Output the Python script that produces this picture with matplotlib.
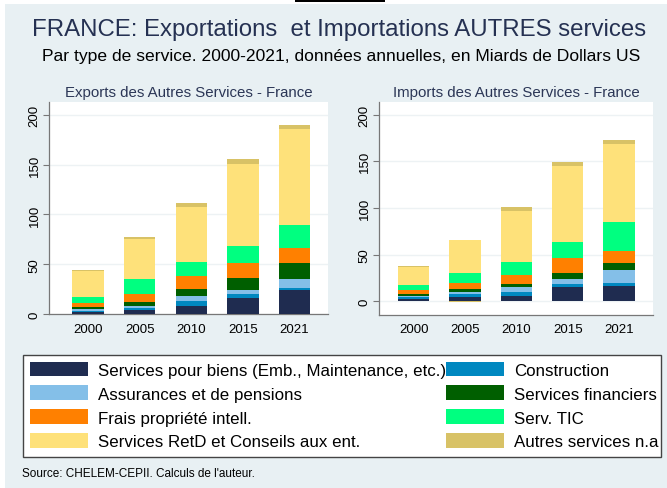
import matplotlib.pyplot as plt
from matplotlib.patches import Patch, Rectangle
import numpy as np

plt.rcParams["font.family"] = ["Liberation Sans", "DejaVu Sans"]

years = ["2000", "2005", "2010", "2015", "2021"]
categories = [
    "Services pour biens (Emb., Maintenance, etc.)",
    "Construction",
    "Assurances et de pensions",
    "Services financiers",
    "Frais propriété intell.",
    "Serv. TIC",
    "Services RetD et Conseils aux ent.",
    "Autres services n.a",
]
colors = ["#1f2c50", "#0088c0", "#84bfe8", "#005f00",
          "#ff8000", "#00ff80", "#fee17a", "#d8c266"]

# Miards de dollars US, one list per category (2000, 2005, 2010, 2015, 2021)
exp_biens = [2.0, 4.0, 8.5, 16.0, 24.0]
exp_constr = [1.5, 2.0, 5.0, 4.0, 2.3]
exp_assur = [1.5, 2.5, 5.0, 4.0, 9.0]
exp_fin = [2.5, 3.5, 6.5, 12.0, 16.0]
exp_frais = [3.5, 8.0, 13.0, 15.3, 14.7]
exp_tic = [6.5, 15.0, 14.0, 17.0, 23.6]
exp_retd = [25.5, 40.5, 55.5, 82.3, 95.7]
exp_autres = [1.5, 2.0, 4.5, 4.7, 4.7]

imp_biens = [2.0, 4.5, 5.4, 15.0, 16.8]
imp_constr = [2.2, 3.0, 4.2, 3.5, 2.5]
imp_assur = [1.4, 2.5, 5.4, 5.4, 14.2]
imp_fin = [1.8, 3.0, 3.5, 6.4, 7.9]
imp_frais = [4.3, 6.4, 10.1, 15.7, 12.9]
imp_tic = [5.7, 11.1, 13.5, 18.0, 31.1]
imp_retd = [19.0, 35.5, 54.7, 81.0, 83.2]
imp_autres = [1.0, -1.0, 4.2, 4.3, 4.3]

exports = [exp_biens, exp_constr, exp_assur, exp_fin, exp_frais, exp_tic, exp_retd, exp_autres]
imports = [imp_biens, imp_constr, imp_assur, imp_fin, imp_frais, imp_tic, imp_retd, imp_autres]

bg = "#e8f0f3"
fig = plt.figure(figsize=(6.67, 4.89), dpi=100, facecolor="white")
fig.patches.append(Rectangle((5 / 667, 0), 1, 1 - 5 / 489, transform=fig.transFigure,
                             facecolor=bg, edgecolor="none", zorder=-10))
fig.patches.append(Rectangle((295 / 667, 1 - 3 / 489), 90 / 667, 3 / 489,
                             transform=fig.transFigure, facecolor="black",
                             edgecolor="none", zorder=-5))
# legend box (text of the right column runs to its edge, as in the original)
fig.patches.append(Rectangle((23 / 667, 1 - 458 / 489), 638 / 667, 102.5 / 489,
                             transform=fig.transFigure, facecolor="white",
                             edgecolor="#444444", linewidth=1.0, zorder=-4))


def stacked(ax, series, title, ylim, xlim):
    x = np.arange(len(years))
    pos = np.zeros(len(years))
    neg = np.zeros(len(years))
    for vals, c in zip(series, colors):
        v = np.array(vals, dtype=float)
        bottom = np.where(v >= 0, pos, neg)
        ax.bar(x, v, 0.61, bottom=bottom, color=c, edgecolor="none", zorder=3)
        pos = pos + np.where(v >= 0, v, 0)
        neg = neg + np.where(v < 0, v, 0)
    ax.set_xlim(*xlim)
    ax.set_ylim(*ylim)
    ax.set_xticks(x)
    ax.set_xticklabels(years, fontsize=9.5)
    ax.set_yticks([0, 50, 100, 150, 200])
    ax.set_yticklabels(["0", "50", "100", "150", "200"], fontsize=9.5,
                       rotation=90, va="center")
    ax.tick_params(axis="x", length=0, pad=6)
    ax.tick_params(axis="y", length=4, color="#777777", pad=2)
    ax.grid(axis="y", color="#edf2f4", linewidth=1.0, zorder=0)
    for s in ["top", "right"]:
        ax.spines[s].set_visible(False)
    for s in ["left", "bottom"]:
        ax.spines[s].set_color("#777777")
        ax.spines[s].set_linewidth(0.9)
    ax.set_title(title, fontsize=10.8, color="#2b3656", pad=4)


ax1 = fig.add_axes([49 / 667, 1 - 315.3 / 489, 279 / 667, 212.6 / 489])
stacked(ax1, exports, "Exports des Autres Services - France", (0, 213), (-0.76, 4.65))

ax2 = fig.add_axes([379 / 667, 1 - 315.5 / 489, 274 / 667, 212.8 / 489])
stacked(ax2, imports, "Imports des Autres Services - France", (-14.3, 214), (-0.675, 4.66))

fig.text(339 / 667, 1 - 30 / 489, "FRANCE: Exportations  et Importations AUTRES services",
         ha="center", va="center", fontsize=17.3, color="#253152")
fig.text(341 / 667, 1 - 57 / 489,
         "Par type de service. 2000-2021, données annuelles, en Miards de Dollars US",
         ha="center", va="center", fontsize=12.6, color="black")

# legend order: row-wise left/right as in the reference
order = [0, 2, 4, 6, 1, 3, 5, 7]
handles = [Patch(facecolor=colors[i], edgecolor="none") for i in order]
labels = [categories[i] for i in order]
leg = fig.legend(handles, labels, ncol=2, loc="upper left",
                 bbox_to_anchor=(23 / 667, 1 - 355.5 / 489),
                 fontsize=12.2, frameon=False,
                 handlelength=3.4, handleheight=0.97, handletextpad=0.62,
                 labelspacing=0.45, borderpad=0.42, borderaxespad=0,
                 columnspacing=0.0)

fig.text(22 / 667, 1 - 474.5 / 489, "Source: CHELEM-CEPII. Calculs de l'auteur.",
         ha="left", va="center", fontsize=8.5, color="black")

fig.savefig("out.png", dpi=100, facecolor=fig.get_facecolor())
